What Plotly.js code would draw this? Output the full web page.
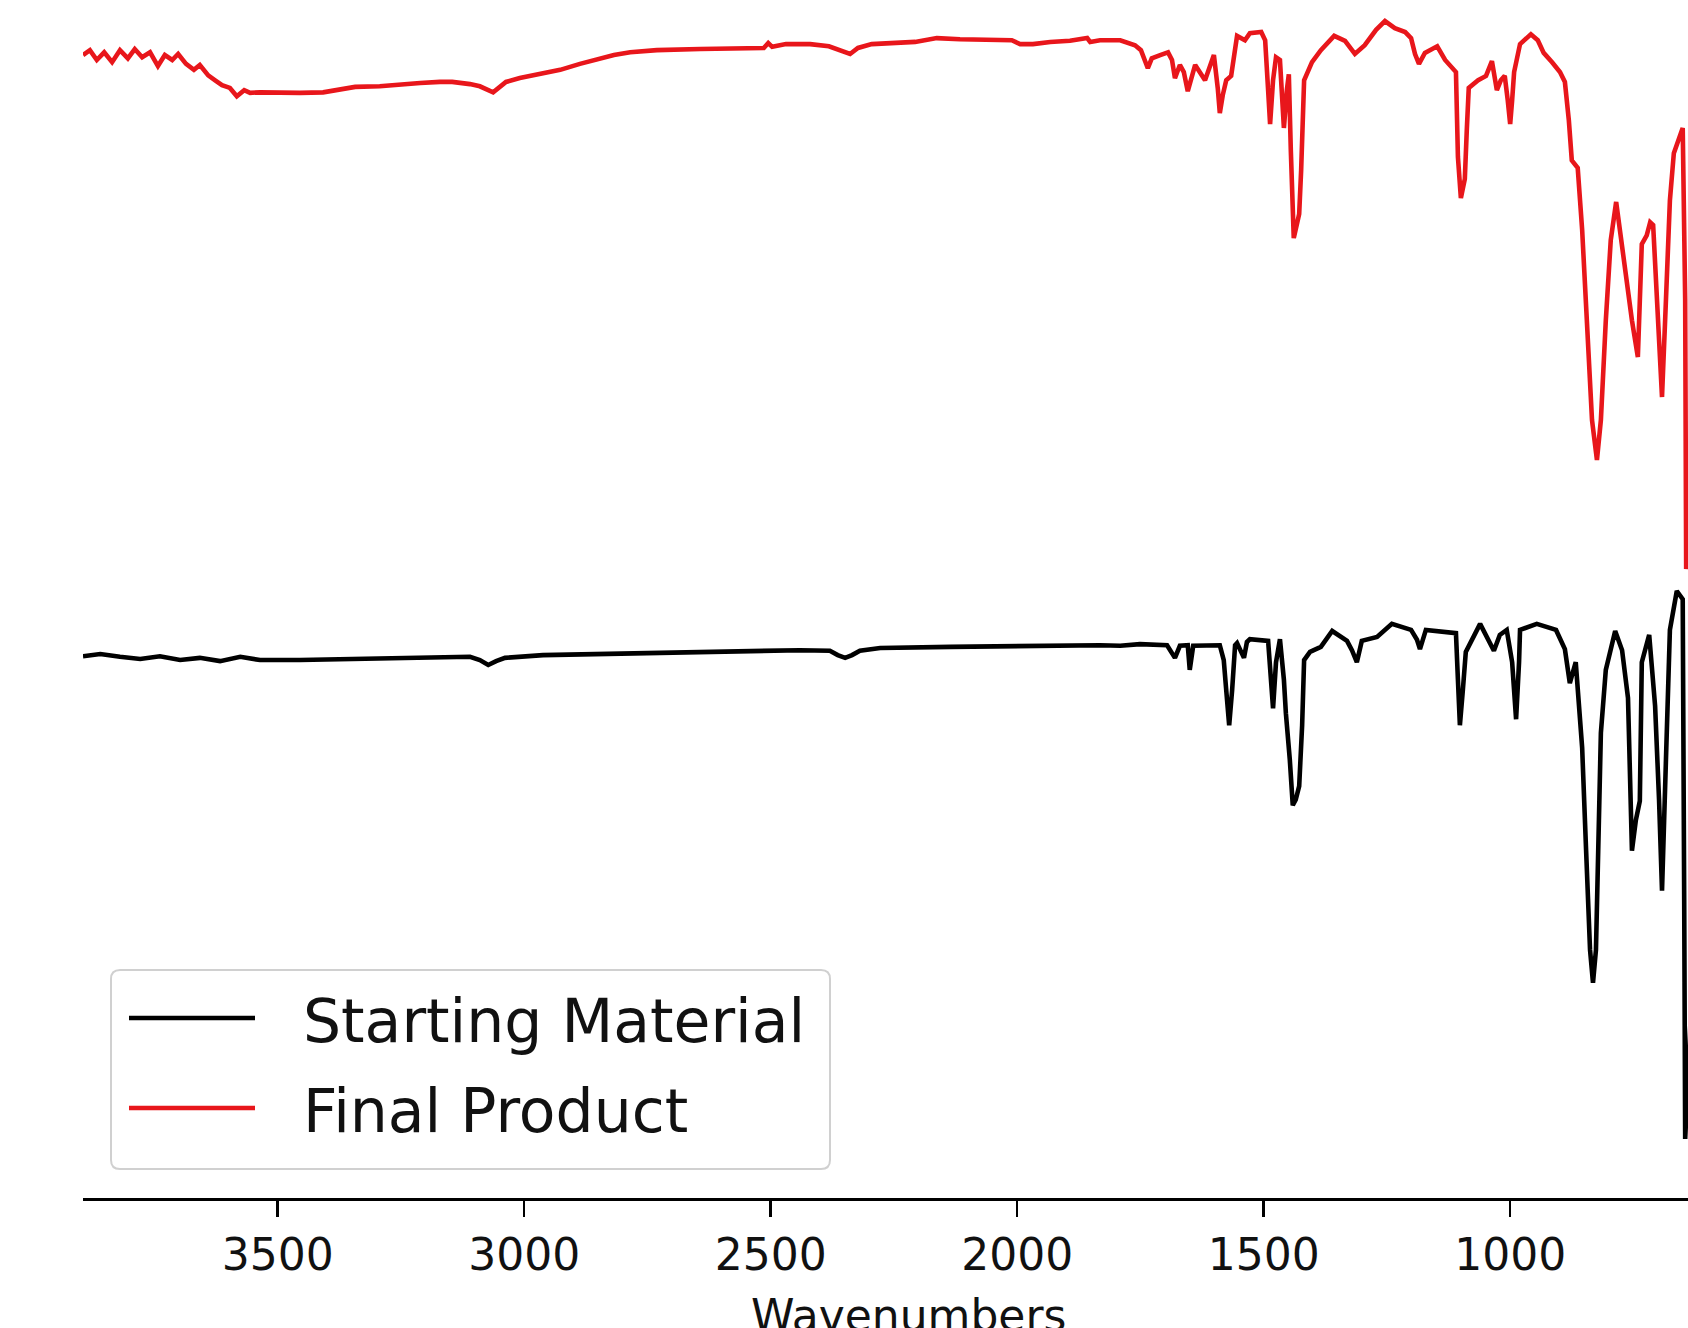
<!DOCTYPE html>
<html><head><meta charset="utf-8">
<script src="https://cdn.plot.ly/plotly-3.0.1.min.js"></script>
<style>html,body{margin:0;padding:0;overflow:hidden;background:#fff}#chart{width:1733px;height:1328px}</style>
</head><body><div id="chart"></div>
<script>
// Starting Material (black) – wavenumber (cm-1) and normalised transmittance
const wnSM = [3895,3860,3820,3779,3739,3698,3658,3617,3576,3536,3455,3353,3252,3151,3110,3090,3073,3057,3039,2962,2846,2643,2441,2380,2364,2349,2335,2319,2278,2136,1980,1913,1832,1791,1751,1696,1680,1670,1654,1650,1643,1589,1581,1576,1570,1564,1558,1554,1540,1534,1528,1491,1485,1481,1475,1467,1459,1455,1447,1441,1435,1428,1422,1418,1406,1384,1361,1331,1321,1311,1301,1270,1240,1201,1189,1183,1171,1110,1106,1102,1096,1090,1061,1033,1021,1007,996,988,982,980,946,907,889,879,867,854,846,838,832,826,820,816,806,787,773,761,753,745,737,733,718,706,698,692,684,676,662,650,647,645,630];
const tSM = [88.1,88.5,88.0,87.6,88.1,87.4,87.8,87.2,88.0,87.4,87.4,87.6,87.8,88.0,88.0,87.4,86.5,87.2,87.8,88.3,88.5,88.9,89.2,89.1,88.3,87.8,88.3,89.1,89.6,89.8,90.0,90.0,90.1,90.0,90.3,90.1,87.8,90.0,90.1,85.6,90.0,90.1,87.4,81.9,75.5,81.9,90.1,90.5,87.8,90.7,91.2,90.9,83.8,78.6,87.0,91.2,83.8,77.7,69.2,60.9,61.9,64.4,75.5,87.4,88.9,89.8,92.7,90.9,89.2,87.0,90.9,91.6,94.0,92.9,91.1,89.4,92.9,92.3,83.8,75.5,81.9,88.9,94.0,89.1,92.0,92.9,87.0,76.6,87.0,92.9,94.0,92.9,89.4,83.2,87.0,71.4,52.7,34.5,28.5,34.5,58.2,74.1,85.6,92.7,89.2,80.5,52.6,58.2,61.7,87.0,92.0,79.0,61.9,45.3,69.2,92.9,100,98.5,43.6,0,30];

// Final Product (red) – wavenumber (cm-1) and normalised transmittance
const wnFP = [3895,3881,3867,3852,3836,3820,3804,3790,3775,3759,3743,3729,3714,3702,3686,3670,3658,3641,3627,3613,3597,3583,3568,3556,3536,3495,3455,3408,3374,3343,3293,3252,3211,3171,3146,3110,3090,3063,3049,3037,3009,2968,2927,2887,2846,2818,2785,2731,2643,2562,2514,2505,2497,2469,2420,2382,2359,2339,2323,2295,2207,2163,2116,2055,2011,1994,1968,1933,1893,1858,1852,1832,1791,1761,1749,1735,1727,1710,1694,1686,1680,1670,1662,1654,1639,1619,1607,1601,1593,1589,1583,1576,1566,1560,1554,1538,1528,1505,1497,1491,1487,1481,1475,1467,1461,1459,1453,1449,1445,1439,1433,1428,1424,1422,1418,1402,1384,1357,1335,1315,1295,1272,1254,1234,1213,1201,1193,1185,1173,1148,1132,1110,1106,1100,1092,1088,1084,1065,1049,1037,1027,1019,1011,1005,1000,996,992,980,958,944,932,915,899,889,881,875,863,854,844,834,824,816,806,796,785,775,767,753,741,733,723,716,710,702,692,684,676,668,658,650,645,643,630];
const tFP = [93.8,94.7,92.9,94.3,92.5,94.7,93.2,94.9,93.4,94.3,91.8,93.8,92.9,94.0,92.2,91.1,92.0,90.1,89.2,88.3,87.8,86.3,87.4,86.9,87.0,86.9,86.9,87.0,87.6,88.0,88.1,88.5,88.7,88.9,88.9,88.5,88.1,87.0,88.1,88.9,89.6,90.3,91.1,92.2,93.2,93.8,94.3,94.7,94.9,95.1,95.1,96.0,95.3,95.8,95.8,95.4,94.7,94.0,95.1,95.8,96.2,96.9,96.7,96.7,96.5,95.8,95.8,96.2,96.4,96.9,96.2,96.5,96.5,95.6,94.7,91.4,93.2,93.8,94.3,92.9,89.6,92.0,90.7,87.2,92.0,89.2,92.5,93.8,87.6,83.2,86.5,89.2,90.0,93.8,97.3,96.5,97.8,98.0,96.5,87.4,81.2,89.2,93.4,92.9,83.8,80.5,87.4,90.3,76.5,60.4,62.8,64.8,72.8,79.4,89.2,92.5,94.7,97.3,96.4,94.0,95.6,98.4,100,98.7,98.0,96.9,94.0,92.2,94.2,95.4,92.9,90.7,75.2,67.7,71.2,80.1,87.8,89.2,90.0,92.7,87.4,89.2,90.0,85.6,81.2,85.6,90.7,95.8,97.6,96.5,94.2,92.5,90.7,88.9,81.9,74.6,73.2,61.9,43.6,27.2,19.9,27.2,45.4,60.0,67.0,60.0,55.1,45.4,38.7,59.3,60.9,63.3,62.8,49.1,31.4,49.1,67.3,75.9,78.3,80.5,49.1,0,20];

const OFFSET_FP = 104;           // vertical offset of the Final Product spectrum
const seriesNames = ['Starting Material', 'Final Product'];
const seriesColors = ['#000000', '#e8161b'];
const xTickVals = [3500, 3000, 2500, 2000, 1500, 1000];
const xTickText = ['3500', '3000', '2500', '2000', '1500', '1000'];
const xTitle = 'Wavenumbers';

// ---- layout geometry (pixels of the page) ----
const W = 1733, H = 1328, ML = 83, MR = 0, MT = 0, MB = 130;
const plotW = W - ML - MR, plotH = H - MT - MB;
const px = x => (x - ML) / plotW;
const py = y => (H - MB - y) / plotH;
const bx0 = px(111), bx1 = px(830), byTop = py(970), byBot = py(1169);
const rx = 9 / plotW, ry = 9 / plotH;
const boxPath = `M${bx0+rx},${byTop} L${bx1-rx},${byTop} Q${bx1},${byTop} ${bx1},${byTop-ry} L${bx1},${byBot+ry} Q${bx1},${byBot} ${bx1-rx},${byBot} L${bx0+rx},${byBot} Q${bx0},${byBot} ${bx0},${byBot+ry} L${bx0},${byTop-ry} Q${bx0},${byTop} ${bx0+rx},${byTop} Z`;
const legendRowsY = [1018, 1108];
const LW = 4.6;

const font = 'DejaVu Sans, Verdana, sans-serif';

const traces = [
  { x: wnSM, y: tSM, type: 'scatter', mode: 'lines', name: seriesNames[0],
    line: { color: seriesColors[0], width: LW }, showlegend: false },
  { x: wnFP, y: tFP.map(v => v + OFFSET_FP), type: 'scatter', mode: 'lines', name: seriesNames[1],
    line: { color: seriesColors[1], width: LW }, showlegend: false }
];

const shapes = [
  { type: 'path', xref: 'paper', yref: 'paper', path: boxPath,
    line: { color: '#d0d0d0', width: 2 }, fillcolor: 'rgba(255,255,255,0.85)', layer: 'above' }
];
const annotations = [];
seriesNames.forEach((nm, i) => {
  shapes.push({ type: 'line', xref: 'paper', yref: 'paper',
    x0: px(129), x1: px(255), y0: py(legendRowsY[i]), y1: py(legendRowsY[i]),
    line: { color: seriesColors[i], width: LW }, layer: 'above' });
  annotations.push({ xref: 'paper', yref: 'paper', x: px(301), y: py(legendRowsY[i] + 3),
    xanchor: 'left', yanchor: 'middle', showarrow: false, text: nm,
    font: { family: font, size: 60, color: '#111' } });
});
// x-axis title (centred on the full, uncropped axes)
annotations.push({ xref: 'paper', yref: 'paper', x: 0.5, y: py(1288),
  xanchor: 'center', yanchor: 'top', showarrow: false, text: xTitle,
  font: { family: font, size: 44, color: '#111' } });

const layout = {
  width: W, height: H,
  margin: { l: ML, r: MR, t: MT, b: MB, pad: 0 },
  paper_bgcolor: '#ffffff', plot_bgcolor: '#ffffff',
  showlegend: false,
  xaxis: {
    range: [3895, 548], tickmode: 'array', tickvals: xTickVals, ticktext: xTickText,
    ticks: 'outside', ticklen: 16, tickwidth: 2.5, tickcolor: '#000',
    showline: true, linecolor: '#000', linewidth: 3.2,
    showgrid: false, zeroline: false,
    tickfont: { family: font, size: 44, color: '#111' }
  },
  yaxis: {
    range: [-10.77, 207.85], visible: false, showgrid: false, zeroline: false
  },
  shapes: shapes,
  annotations: annotations
};

Plotly.newPlot('chart', traces, layout, { displayModeBar: false, staticPlot: true });
</script>
</body></html>
